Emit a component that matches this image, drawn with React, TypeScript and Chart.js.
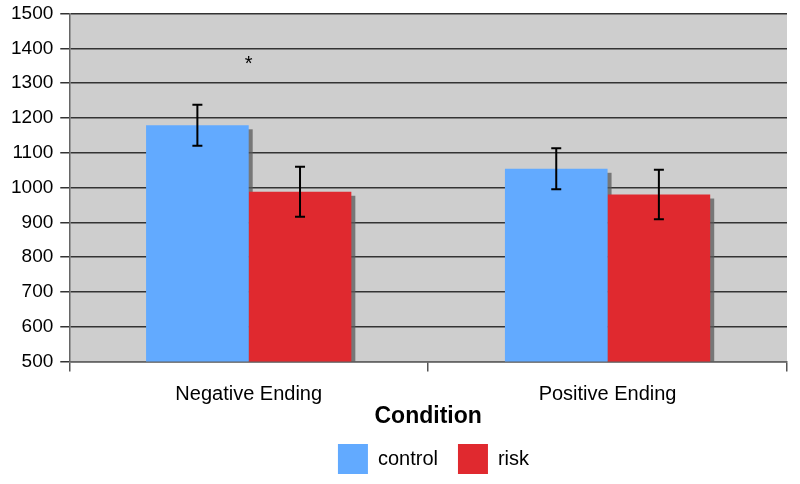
import React, { useEffect, useRef } from "react";
import { Chart, registerables } from "chart.js";

Chart.register(...registerables);

const categories = ["Negative Ending", "Positive Ending"];
const controlValues = [1179, 1054];
const riskValues = [988, 980];
const controlErrors = [59, 59];
const riskErrors = [72, 71];
const yTicks = [500, 600, 700, 800, 900, 1000, 1100, 1200, 1300, 1400, 1500];
const significance = [{ category: 0, value: 1353, label: "*" }];

const FONT = "'Liberation Sans', Arial, Helvetica, sans-serif";

const bgPlugin = {
  id: "bgPlugin",
  beforeDraw(chart: any) {
    const { ctx, chartArea } = chart;
    ctx.save();
    ctx.fillStyle = "#cecece";
    ctx.fillRect(chartArea.left, chartArea.top, chartArea.right - chartArea.left, chartArea.bottom - chartArea.top);
    ctx.restore();
  },
};

const legendShift = {
  id: "legendShift",
  afterLayout(chart: any) {
    const lg = chart.legend;
    if (!lg) return;
    lg.left += 38;
    lg.right += 38;
  },
};

const shadowPlugin = {
  id: "shadowPlugin",
  beforeDatasetsDraw(chart: any) {
    const { ctx, chartArea } = chart;
    ctx.save();
    ctx.beginPath();
    ctx.rect(chartArea.left, chartArea.top, chartArea.right - chartArea.left, chartArea.bottom - chartArea.top);
    ctx.clip();
    ctx.fillStyle = "rgba(90,90,90,0.75)";
    chart.data.datasets.forEach((_ds: any, di: number) => {
      const meta = chart.getDatasetMeta(di);
      meta.data.forEach((bar: any) => {
        const p = bar.getProps(["x", "y", "base", "width"], true);
        const left = p.x - p.width / 2;
        ctx.fillRect(left + 4, p.y + 4, p.width, p.base - p.y);
      });
    });
    ctx.restore();
  },
};

const errorPlugin = {
  id: "errorPlugin",
  afterDatasetsDraw(chart: any) {
    const { ctx } = chart;
    const yScale = chart.scales.y;
    const xScale = chart.scales.x;
    const errs = [controlErrors, riskErrors];
    const vals = [controlValues, riskValues];
    ctx.save();
    ctx.strokeStyle = "#000";
    ctx.lineWidth = 2;
    chart.data.datasets.forEach((_ds: any, di: number) => {
      const meta = chart.getDatasetMeta(di);
      meta.data.forEach((bar: any, i: number) => {
        const x = bar.x;
        const yT = yScale.getPixelForValue(vals[di][i] + errs[di][i]);
        const yB = yScale.getPixelForValue(vals[di][i] - errs[di][i]);
        ctx.beginPath();
        ctx.moveTo(x, yT);
        ctx.lineTo(x, yB);
        ctx.moveTo(x - 5, yT);
        ctx.lineTo(x + 5, yT);
        ctx.moveTo(x - 5, yB);
        ctx.lineTo(x + 5, yB);
        ctx.stroke();
      });
    });
    ctx.fillStyle = "#000";
    ctx.font = `20px ${FONT}`;
    ctx.textAlign = "center";
    ctx.textBaseline = "middle";
    significance.forEach((s) => {
      const x = xScale.getPixelForValue(s.category);
      const y = yScale.getPixelForValue(s.value);
      ctx.fillText(s.label, x, y);
    });
    ctx.restore();
  },
};

export default function App() {
  const ref = useRef<HTMLCanvasElement>(null);
  useEffect(() => {
    if (!ref.current) return;
    const chart = new Chart(ref.current, {
      type: "bar",
      data: {
        labels: categories,
        datasets: [
          { label: "control", data: controlValues, backgroundColor: "#62aaff", borderWidth: 0 },
          { label: "risk", data: riskValues, backgroundColor: "#e0292f", borderWidth: 0 },
        ],
      },
      options: {
        responsive: false,
        animation: false,
        layout: { padding: { top: 2, right: 13, left: 4, bottom: 0 } },
        datasets: { bar: { categoryPercentage: 0.572, barPercentage: 1 } },
        scales: {
          x: {
            grid: { display: true, drawOnChartArea: false, drawTicks: true, tickLength: 10, color: "#555", lineWidth: 1.5 },
            border: { display: true, color: "#666", width: 1.5 },
            ticks: { color: "#000", font: { size: 20, family: FONT, lineHeight: 0.8 }, padding: 15 },
            title: {
              display: true,
              text: "Condition",
              color: "#000",
              font: { size: 23, weight: "bold", family: FONT, lineHeight: 1 },
              padding: { top: -12.5, bottom: -4 },
            },
          },
          y: {
            min: 500,
            max: 1500,
            afterBuildTicks(axis: any) {
              axis.ticks = yTicks.map((v) => ({ value: v }));
            },
            grid: { color: "#333", lineWidth: 1.5, tickLength: 9 },
            border: { display: true, color: "#666", width: 1.5 },
            ticks: {
              color: "#000",
              font: { size: 19, family: FONT, lineHeight: 0.7 },
              padding: 7,
              callback: (v: any) => String(v),
            },
          },
        },
        plugins: {
          legend: {
            position: "bottom",
            labels: { boxWidth: 30, boxHeight: 30, padding: 20, color: "#000", font: { size: 20, family: FONT } },
          },
          tooltip: { enabled: false },
        },
      },
      plugins: [bgPlugin, legendShift, shadowPlugin, errorPlugin],
    } as any);
    return () => chart.destroy();
  }, []);
  return (
    <div style={{ position: "fixed", left: 0, top: 0, width: 800, height: 484, background: "#fff" }}>
      <canvas ref={ref} width={800} height={484} style={{ width: 800, height: 484 }} />
    </div>
  );
}
